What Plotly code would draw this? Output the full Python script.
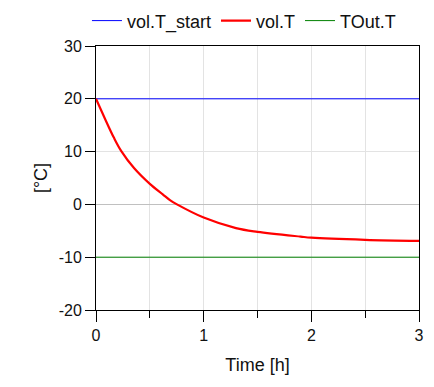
import plotly.graph_objects as go

# Time [h] and temperatures [°C]
time_h = [0.0, 0.075, 0.167, 0.235, 0.353, 0.5, 0.62, 0.687, 0.752, 1.0, 1.3, 1.5, 1.9, 2.0, 2.5, 3.0]
vol_T = [20.0, 16.6, 12.6, 10.1, 6.9, 3.9, 1.9, 0.8, 0.0, -2.5, -4.5, -5.2, -6.1, -6.3, -6.7, -6.9]
time_const = [0.0, 3.0]
vol_T_start = [20.0, 20.0]
TOut_T = [-10.0, -10.0]
y_ticks = [-20, -10, 0, 10, 20, 30]
y_ticktext = ["-20", "-10", "0", "10", "20", "30"]
x_ticks = [0, 1, 2, 3]

font_family = "Liberation Sans, Arial, sans-serif"

fig = go.Figure()
fig.add_trace(go.Scatter(x=time_const, y=vol_T_start, mode="lines", name="vol.T_start",
                         line=dict(color="#0000ff", width=1)))
fig.add_trace(go.Scatter(x=time_h, y=vol_T, mode="lines", name="vol.T",
                         line=dict(color="#ff0000", width=2.2, shape="spline", smoothing=1.0)))
fig.add_trace(go.Scatter(x=time_const, y=TOut_T, mode="lines", name="TOut.T",
                         line=dict(color="#008000", width=1)))

# the page body adds an 8px offset, so the figure is 8px smaller and margins shifted
fig.update_layout(
    width=426, height=379,
    margin=dict(l=88, r=15, t=38, b=77, autoexpand=False),
    paper_bgcolor="white", plot_bgcolor="white",
    font=dict(family=font_family, size=16, color="#111111"),
    showlegend=True,
    legend=dict(orientation="h", x=-0.028, xanchor="left", y=1.025, yanchor="bottom",
                font=dict(size=18, color="#111111"), itemwidth=30,
                bgcolor="rgba(0,0,0,0)", tracegroupgap=0),
    xaxis=dict(
        range=[0, 3], tickmode="array", tickvals=x_ticks,
        ticks="outside", ticklen=11, tickcolor="black", tickwidth=1,
        showline=True, linecolor="black", linewidth=1, mirror=True,
        showgrid=True, gridcolor="#e3e3e3", gridwidth=1,
        minor=dict(tickvals=[0.5, 1.5, 2.5], ticks="outside", ticklen=7,
                   tickcolor="black", showgrid=True, gridcolor="#e3e3e3"),
        zeroline=False,
        title=dict(text="Time [h]", font=dict(size=18), standoff=15),
        tickfont=dict(size=16),
    ),
    yaxis=dict(
        range=[-20, 30], tickmode="array", tickvals=y_ticks, ticktext=y_ticktext,
        ticks="outside", ticklen=10, tickcolor="black", tickwidth=1,
        showline=True, linecolor="black", linewidth=1, mirror=True,
        showgrid=True, gridcolor="#e3e3e3", gridwidth=1,
        zeroline=True, zerolinecolor="#c0c0c0", zerolinewidth=1,
        title=dict(text="[°C]", font=dict(size=18), standoff=6),
        tickfont=dict(size=16),
    ),
)

fig.write_html("out.html")
